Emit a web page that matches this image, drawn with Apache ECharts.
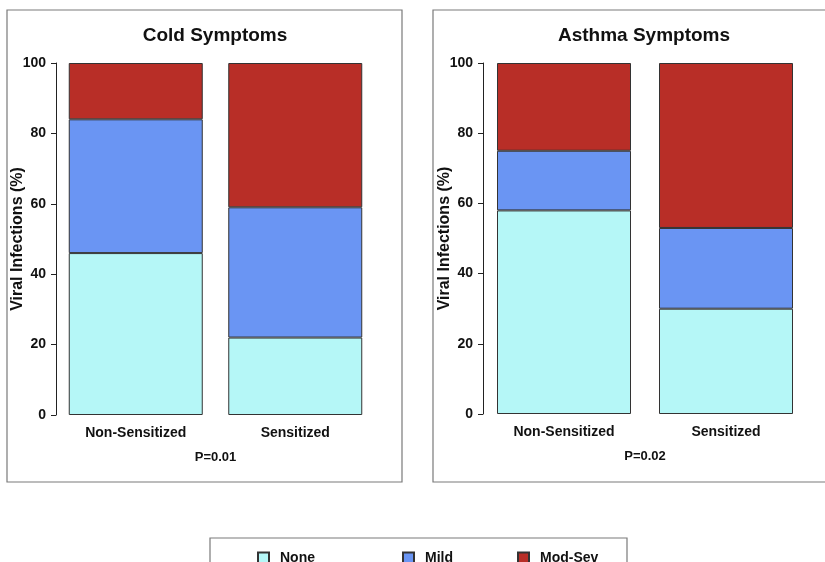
<!DOCTYPE html>
<html>
<head>
<meta charset="utf-8">
<script src="https://cdn.jsdelivr.net/npm/echarts@6/dist/echarts.min.js"></script>
<style>html,body{margin:0;padding:0;background:#fff;}#chart{width:825px;height:562px;}</style>
</head>
<body>
<div id="chart"></div>
<script>
const categories = ['Non-Sensitized', 'Sensitized'];
const levels = ['None', 'Mild', 'Mod-Sev'];
const panelTitles = ['Cold Symptoms', 'Asthma Symptoms'];
const pValues = ['P=0.01', 'P=0.02'];
const yTicks = [0, 20, 40, 60, 80, 100];
const yAxisLabel = 'Viral Infections (%)';

// Cold symptoms (% of viral infections)
const coldNone = [46, 22];
const coldMild = [38, 37];
const coldModSev = [16, 41];
// Asthma symptoms (% of viral infections)
const asthmaNone = [58, 30];
const asthmaMild = [17, 23];
const asthmaModSev = [25, 47];

const colors = { 'None': '#b5f7f7', 'Mild': '#6a95f3', 'Mod-Sev': '#b82e27' };
const FONT = '"Liberation Sans", Arial, Helvetica, sans-serif';

const chart = echarts.init(document.getElementById('chart'), null, { renderer: 'canvas' });

function mkX(gi, name) {
  return {
    type: 'category', gridIndex: gi, data: categories,
    axisLine: { show: false }, axisTick: { show: false },
    axisLabel: { color: '#111', fontFamily: FONT, fontWeight: 'bold', fontSize: 14, margin: 11 },
    name: name, nameLocation: 'middle', nameGap: 36, nameMoveOverlap: false,
    nameTextStyle: { color: '#111', fontFamily: FONT, fontWeight: 'bold', fontSize: 13 }
  };
}
function mkY(gi) {
  return {
    type: 'value', gridIndex: gi, min: yTicks[0], max: yTicks[yTicks.length - 1], interval: yTicks[1] - yTicks[0],
    axisLine: { show: true, lineStyle: { color: '#222', width: 1 } },
    axisTick: { show: true, length: 5, lineStyle: { color: '#222' } },
    splitLine: { show: false },
    axisLabel: { color: '#111', fontFamily: FONT, fontWeight: 'bold', fontSize: 14, margin: 10 },
    name: yAxisLabel, nameLocation: 'middle', nameGap: 30, nameRotate: 90, nameMoveOverlap: false,
    nameTextStyle: { color: '#111', fontFamily: FONT, fontWeight: 'bold', fontSize: 16 }
  };
}
function mkSeries(name, data, gi) {
  return {
    name: name, type: 'bar', stack: 'g' + gi, xAxisIndex: gi, yAxisIndex: gi,
    data: data, barWidth: 134,
    itemStyle: { color: colors[name], borderColor: '#333', borderWidth: 1 },
    emphasis: { disabled: true }, animation: false
  };
}
function mkLegend(name, left) {
  return {
    data: [name], left: left, top: 546, icon: 'rect', itemWidth: 11, itemHeight: 11,
    selectedMode: false,
    textStyle: { color: '#111', fontFamily: FONT, fontWeight: 'bold', fontSize: 14, padding: [0, 0, 0, 6] }
  };
}

const option = {
  backgroundColor: '#fff',
  animation: false,
  grid: [
    { left: 56, top: 63, width: 319, height: 352 },
    { left: 483, top: 63, width: 324, height: 351 }
  ],
  xAxis: [mkX(0, pValues[0]), mkX(1, pValues[1])],
  yAxis: [mkY(0), mkY(1)],
  legend: [mkLegend(levels[0], 252), mkLegend(levels[1], 397), mkLegend(levels[2], 512)],
  series: [
    mkSeries(levels[0], coldNone, 0), mkSeries(levels[1], coldMild, 0), mkSeries(levels[2], coldModSev, 0),
    mkSeries(levels[0], asthmaNone, 1), mkSeries(levels[1], asthmaMild, 1), mkSeries(levels[2], asthmaModSev, 1)
  ],
  graphic: [
    { type: 'rect', shape: { x: 7, y: 10, width: 395, height: 472 }, style: { fill: 'none', stroke: '#7a7a7a', lineWidth: 1.2 }, silent: true, z: -1 },
    { type: 'rect', shape: { x: 433, y: 10, width: 420, height: 472 }, style: { fill: 'none', stroke: '#7a7a7a', lineWidth: 1.2 }, silent: true, z: -1 },
    { type: 'rect', shape: { x: 210, y: 538, width: 417, height: 40 }, style: { fill: 'none', stroke: '#7a7a7a', lineWidth: 1.2 }, silent: true, z: -1 },
    { type: 'text', x: 215, y: 36, style: { text: panelTitles[0], fill: '#111', font: 'bold 19px ' + FONT, textAlign: 'center', textVerticalAlign: 'middle' }, silent: true },
    { type: 'text', x: 644, y: 36, style: { text: panelTitles[1], fill: '#111', font: 'bold 19px ' + FONT, textAlign: 'center', textVerticalAlign: 'middle' }, silent: true }
  ]
};
chart.setOption(option);
</script>
</body>
</html>
